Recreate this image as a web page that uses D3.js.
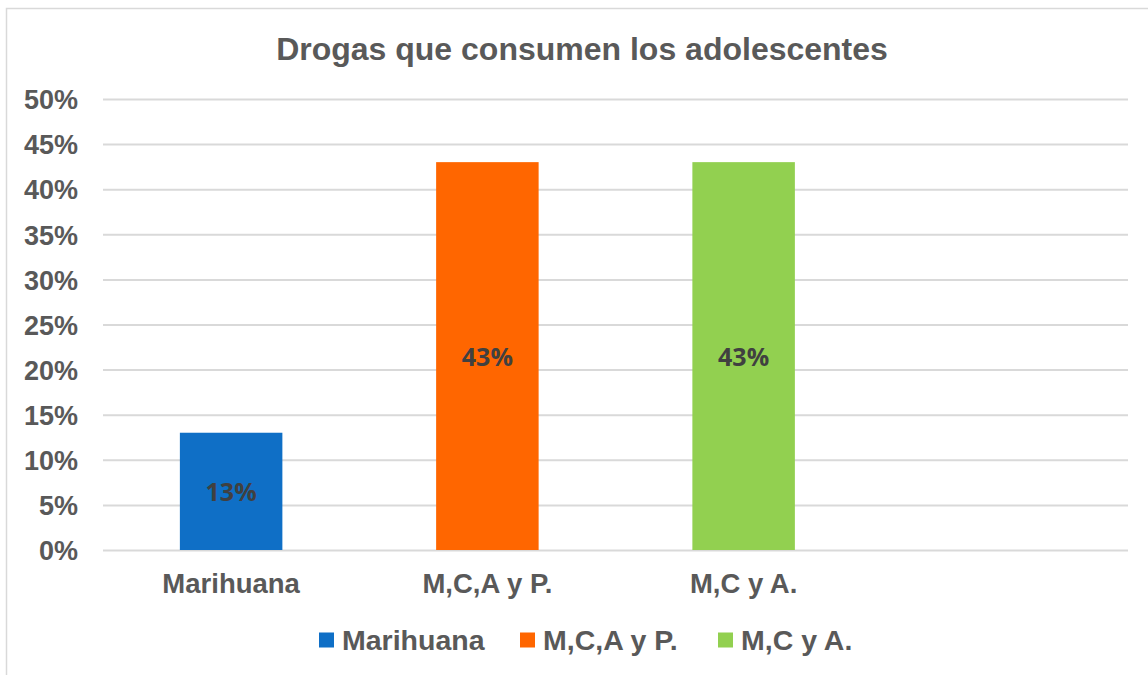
<!DOCTYPE html>
<html><head><meta charset="utf-8">
<script src="https://cdn.jsdelivr.net/npm/d3@7"></script>
<style>html,body{margin:0;padding:0;background:#fff}</style>
</head><body>
<svg id="c" width="1148" height="675"></svg>
<script>
const categories = ["Marihuana", "M,C,A y P.", "M,C y A.", ""];
const values = [0.13, 0.43, 0.43, null];
const colors = ["#0F6FC6", "#FF6600", "#92D050"];
const yTicks = [0, 0.05, 0.10, 0.15, 0.20, 0.25, 0.30, 0.35, 0.40, 0.45, 0.50];
const legendLabels = ["Marihuana", "M,C,A y P.", "M,C y A."];
const title = "Drogas que consumen los adolescentes";

const svg = d3.select("#c");
const font = "'Liberation Sans', Arial, sans-serif";
const txt = "#595959";

svg.append("rect").attr("x", 6.5).attr("y", 8.5).attr("width", 1160).attr("height", 700)
  .attr("fill", "#fff").attr("stroke", "#d9d9d9").attr("stroke-width", 1.5);

const pLeft = 103, pRight = 1128, pTop = 99, pBottom = 550;
const x = d3.scaleBand().domain(categories.map((c, i) => i)).range([pLeft, pRight]).paddingInner(0.6).paddingOuter(0.3);
const y = d3.scaleLinear().domain([0, 0.5]).range([pBottom, pTop]);

svg.append("text").attr("x", 582).attr("y", 60).attr("text-anchor", "middle")
  .attr("font-family", font).attr("font-weight", "bold").attr("font-size", 32)
  .attr("fill", txt).text(title);

const yAxis = svg.append("g").attr("transform", `translate(${pLeft},0)`)
  .call(d3.axisLeft(y).tickValues(yTicks).tickFormat(d3.format(".0%")).tickSize(-(pRight - pLeft)).tickPadding(25));
yAxis.select(".domain").remove();
yAxis.selectAll(".tick line").attr("stroke", "#d9d9d9").attr("stroke-width", 2);
yAxis.selectAll(".tick text").attr("font-family", font).attr("font-weight", "bold")
  .attr("font-size", 27).attr("fill", txt).attr("dy", "0.36em");

const xAxis = svg.append("g").attr("transform", `translate(0,${pBottom})`)
  .call(d3.axisBottom(x).tickFormat(i => categories[i]).tickSize(0).tickPadding(23.5));
xAxis.select(".domain").remove();
xAxis.selectAll(".tick text").attr("font-family", font).attr("font-weight", "bold")
  .attr("font-size", 27.5).attr("fill", txt);

const data = values.map((v, i) => ({i, v})).filter(d => d.v != null);
svg.selectAll("rect.bar").data(data).join("rect").attr("class", "bar")
  .attr("x", d => x(d.i)).attr("width", x.bandwidth())
  .attr("y", d => y(d.v)).attr("height", d => y(0) - y(d.v))
  .attr("fill", d => colors[d.i]);

svg.selectAll("text.lbl").data(data).join("text").attr("class", "lbl")
  .attr("x", d => x(d.i) + x.bandwidth() / 2)
  .attr("y", d => (y(d.v) + y(0)) / 2 + 10)
  .attr("text-anchor", "middle")
  .attr("font-family", "'Open Sans', sans-serif").attr("font-weight", "bold")
  .attr("font-size", 25).attr("fill", "#404040")
  .text(d => d3.format(".0%")(d.v));

const legendX = [319, 520, 718];
const lg = svg.selectAll("g.leg").data(legendLabels).join("g").attr("class", "leg")
  .attr("transform", (d, i) => `translate(${legendX[i]},640)`);
lg.append("rect").attr("x", 0).attr("y", -7.5).attr("width", 15).attr("height", 15)
  .attr("fill", (d, i) => colors[i]);
lg.append("text").attr("x", 23).attr("y", 10)
  .attr("font-family", font).attr("font-weight", "bold").attr("font-size", 28.5)
  .attr("fill", txt).text(d => d);
</script>
</body></html>
